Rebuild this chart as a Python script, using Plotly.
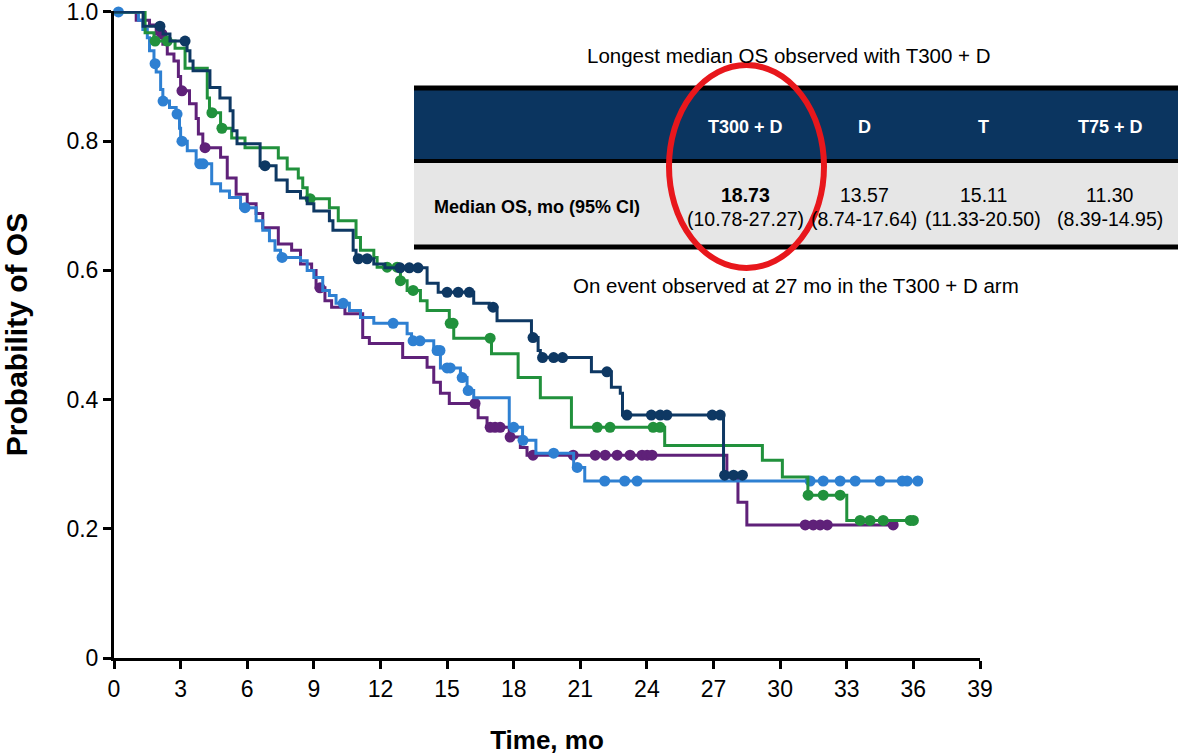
import numpy as np
import plotly.graph_objects as go

# ---- Kaplan-Meier step data (months, survival probability after each event) ----
t300d_times = [1.31, 2.21, 2.52, 3.29, 3.42, 3.56, 4.32, 4.77, 5.23, 5.36, 5.54, 6.58, 7.30,
               7.80, 8.40, 8.70, 9.00, 9.70, 9.86, 10.77, 10.90, 11.70, 12.20, 14.10, 14.60,
               16.20, 16.90, 17.25, 18.80, 19.10, 19.20, 21.50, 22.40, 22.80, 22.90, 27.45]
t300d_surv = [0.978, 0.966, 0.955, 0.940, 0.924, 0.909, 0.883, 0.867, 0.847, 0.816, 0.796, 0.762, 0.740,
              0.722, 0.712, 0.703, 0.692, 0.677, 0.662, 0.631, 0.618, 0.610, 0.604, 0.580, 0.566,
              0.549, 0.543, 0.522, 0.496, 0.476, 0.465, 0.443, 0.419, 0.410, 0.376, 0.283]
t300d_cens = [2.07, 3.20, 6.80, 11.0, 11.4, 12.88, 13.3, 13.69, 15.0, 15.5, 16.0, 17.07, 18.87,
              19.3, 19.8, 20.2, 22.2, 23.1, 24.2, 24.6, 24.9, 26.94, 27.3, 27.5, 27.9, 28.3]
t300d_end = 28.3

t_times = [1.40, 1.80, 2.75, 3.20, 4.20, 4.30, 4.80, 5.30, 5.90, 7.40, 7.80, 8.30, 8.50, 8.70,
           9.70, 10.10, 10.90, 11.10, 11.70, 11.85, 12.90, 13.20, 13.80, 14.10, 15.10, 15.30,
           17.00, 18.20, 19.20, 20.60, 24.80, 29.20, 30.10, 31.25, 33.00]
t_surv = [0.968, 0.955, 0.944, 0.913, 0.867, 0.844, 0.820, 0.805, 0.790, 0.774, 0.757, 0.743, 0.728, 0.711,
          0.697, 0.677, 0.651, 0.631, 0.620, 0.605, 0.584, 0.569, 0.553, 0.538, 0.518, 0.495,
          0.471, 0.434, 0.403, 0.357, 0.329, 0.306, 0.280, 0.252, 0.213]
t_cens = [1.85, 2.4, 4.41, 4.86, 8.83, 12.3, 12.75, 12.9, 13.47, 15.14, 15.27, 16.94, 21.76, 22.34,
          24.28, 24.59, 31.26, 31.94, 32.7, 33.6, 34.05, 34.64, 35.86, 36.0]
t_end = 36.0

t75d_times = [1.00, 1.60, 1.90, 2.20, 2.40, 2.70, 2.90, 3.00, 3.40, 3.70, 3.80, 4.00, 4.80, 5.10,
              5.50, 6.00, 6.40, 6.70, 7.40, 8.00, 8.40, 8.90, 9.10, 9.50, 9.80, 10.40, 11.20,
              11.50, 13.00, 14.10, 14.40, 14.70, 15.10, 16.40, 16.80, 17.80, 18.30, 18.60,
              27.60, 28.10, 28.50]
t75d_surv = [0.987, 0.980, 0.966, 0.950, 0.935, 0.924, 0.900, 0.878, 0.858, 0.835, 0.811, 0.790, 0.775, 0.743,
             0.718, 0.703, 0.688, 0.666, 0.641, 0.631, 0.610, 0.600, 0.573, 0.553, 0.543, 0.533, 0.496,
             0.487, 0.465, 0.450, 0.427, 0.410, 0.394, 0.372, 0.357, 0.342, 0.326, 0.314,
             0.280, 0.241, 0.206]
t75d_cens = [2.16, 3.06, 4.1, 9.28, 16.26, 16.94, 17.16, 17.39, 17.84, 18.87, 20.68, 21.67, 22.12,
             22.66, 23.24, 23.78, 24.01, 24.23, 31.13, 31.49, 31.8, 32.12, 35.09]
t75d_end = 35.1

d_times = [1.10, 1.30, 1.50, 1.60, 1.80, 1.90, 2.10, 2.20, 2.50, 2.80, 2.95, 3.00, 3.30, 3.70,
           4.40, 4.80, 5.20, 5.70, 6.40, 6.70, 7.00, 7.25, 7.50, 8.40, 8.70, 9.00, 9.40, 9.70,
           10.00, 10.60, 11.10, 11.70, 13.20, 13.40, 14.40, 14.70, 15.60, 15.90, 16.20, 17.80,
           18.40, 19.00, 20.70, 21.20]
d_surv = [0.987, 0.973, 0.960, 0.940, 0.920, 0.907, 0.880, 0.862, 0.852, 0.842, 0.820, 0.800, 0.785, 0.765,
          0.734, 0.723, 0.713, 0.697, 0.677, 0.662, 0.646, 0.631, 0.620, 0.615, 0.600, 0.589, 0.569, 0.561,
          0.549, 0.538, 0.527, 0.518, 0.502, 0.491, 0.476, 0.449, 0.434, 0.414, 0.403, 0.357,
          0.337, 0.317, 0.295, 0.274]
d_cens = [0.2, 1.85, 2.21, 2.84, 3.06, 3.87, 4.01, 5.9, 7.57, 10.32, 12.57, 13.47, 13.78, 14.55,
          14.68, 15.0, 15.14, 15.68, 15.95, 18.0, 18.42, 19.8, 20.86, 22.1, 23.0, 23.56, 31.35,
          31.94, 32.7, 33.38, 34.5, 35.5, 35.72, 36.2]
d_end = 36.2

# ---- table contents ----
arms = ["T300 + D", "D", "T", "T75 + D"]
median_os = ["18.73", "13.57", "15.11", "11.30"]
median_ci = ["(10.78-27.27)", "(8.74-17.64)", "(11.33-20.50)", "(8.39-14.95)"]

x_ticks = list(range(0, 40, 3))
y_ticks = [0, 0.2, 0.4, 0.6, 0.8, 1.0]
y_tick_text = ["0", "0.2", "0.4", "0.6", "0.8", "1.0"]

NAVY = "#0e3863"
GREEN = "#21913c"
PURPLE = "#5f2179"
BLUE = "#2e80d2"
FONT = "Liberation Sans, Arial, sans-serif"

fig = go.Figure()


def add_arm(times, surv, cens, end, color, name):
    xs = [0.0] + list(times) + [end]
    ys = [1.0] + list(surv) + [surv[-1]]
    fig.add_trace(go.Scatter(x=xs, y=ys, mode="lines", line=dict(color=color, width=3, shape="hv"),
                             name=name, showlegend=False, cliponaxis=False, hoverinfo="skip"))
    levels = np.array([1.0] + list(surv))
    idx = np.searchsorted(np.array(times), np.array(cens), side="right")
    fig.add_trace(go.Scatter(x=cens, y=levels[idx], mode="markers",
                             marker=dict(color=color, size=11, line=dict(width=0)),
                             name=name, showlegend=False, cliponaxis=False))


add_arm(t75d_times, t75d_surv, t75d_cens, t75d_end, PURPLE, "T75 + D")
add_arm(d_times, d_surv, d_cens, d_end, BLUE, "D")
add_arm(t_times, t_surv, t_cens, t_end, GREEN, "T")
add_arm(t300d_times, t300d_surv, t300d_cens, t300d_end, NAVY, "T300 + D")

# pixel -> paper helpers for the inset table
L, R, T, B = 114, 198, 11, 98
W, H = 1178, 756
PW, PH = W - L - R, H - T - B


def px(xp):
    return (xp - L) / PW


def py(yp):
    return (H - B - yp) / PH


shapes = [
    dict(type="rect", xref="paper", yref="paper", x0=px(414), x1=px(1178), y0=py(160), y1=py(88),
         fillcolor="#0b3560", line=dict(width=0), layer="above"),
    dict(type="rect", xref="paper", yref="paper", x0=px(414), x1=px(1178), y0=py(246), y1=py(162),
         fillcolor="#e6e6e6", line=dict(width=0), layer="above"),
    dict(type="line", xref="paper", yref="paper", x0=px(414), x1=px(1178), y0=py(88), y1=py(88),
         line=dict(color="black", width=5), layer="above"),
    dict(type="line", xref="paper", yref="paper", x0=px(414), x1=px(1178), y0=py(161), y1=py(161),
         line=dict(color="black", width=4), layer="above"),
    dict(type="line", xref="paper", yref="paper", x0=px(414), x1=px(1178), y0=py(247), y1=py(247),
         line=dict(color="black", width=5), layer="above"),
    dict(type="circle", xref="paper", yref="paper", x0=px(669), x1=px(824), y0=py(268), y1=py(65),
         line=dict(color="#e8171c", width=6), layer="above"),
]

col_x = [745, 864, 983, 1110]
annotations = [
    dict(text="Longest median OS observed with T300 + D", x=px(789), y=py(55), xref="paper", yref="paper",
         showarrow=False, font=dict(family=FONT, size=20.5, color="black"), xanchor="center", yanchor="middle"),
    dict(text="On event observed at 27 mo in the T300 + D arm", x=px(796), y=py(285), xref="paper",
         yref="paper", showarrow=False, font=dict(family=FONT, size=20.5, color="black"),
         xanchor="center", yanchor="middle"),
    dict(text="<b>Median OS, mo (95% CI)</b>", x=px(537), y=py(207), xref="paper", yref="paper",
         showarrow=False, font=dict(family=FONT, size=18, color="black"), xanchor="center", yanchor="middle"),
]
for i, arm in enumerate(arms):
    annotations.append(dict(text="<b>%s</b>" % arm, x=px(col_x[i]), y=py(127), xref="paper", yref="paper",
                            showarrow=False, font=dict(family=FONT, size=18, color="white"),
                            xanchor="center", yanchor="middle"))
    med = "<b>%s</b>" % median_os[i] if i == 0 else median_os[i]
    annotations.append(dict(text=med, x=px(col_x[i]), y=py(195), xref="paper", yref="paper",
                            showarrow=False, font=dict(family=FONT, size=19.5, color="black"),
                            xanchor="center", yanchor="middle"))
    annotations.append(dict(text=median_ci[i], x=px(col_x[i]), y=py(219), xref="paper", yref="paper",
                            showarrow=False, font=dict(family=FONT, size=19.5, color="black"),
                            xanchor="center", yanchor="middle"))

fig.update_layout(
    width=W, height=H,
    margin=dict(l=L, r=R, t=T, b=B, pad=0, autoexpand=False),
    plot_bgcolor="white", paper_bgcolor="white",
    font=dict(family=FONT, color="black"),
    shapes=shapes,
    annotations=annotations,
    showlegend=False,
    xaxis=dict(range=[0, 39], tickvals=x_ticks, ticktext=[str(v) for v in x_ticks], automargin=False,
               showgrid=False, zeroline=False, showline=True, linecolor="black", linewidth=3,
               ticks="outside", ticklen=8, tickwidth=2.5, tickcolor="black",
               tickfont=dict(family=FONT, size=23, color="black"), ticklabeloverflow="allow",
               title=dict(text="<b>Time, mo</b>", font=dict(family=FONT, size=26, color="black"), standoff=31)),
    yaxis=dict(range=[0, 1.0015], tickvals=y_ticks, ticktext=y_tick_text, automargin=False,
               showgrid=False, zeroline=False, showline=True, linecolor="black", linewidth=3,
               ticks="outside", ticklen=8, tickwidth=2.5, tickcolor="black",
               tickfont=dict(family=FONT, size=23, color="black"), ticklabeloverflow="allow",
               title=dict(text="<b>Probability of OS</b>", font=dict(family=FONT, size=30, color="black"),
                          standoff=31)),
)

fig.write_html("out.html")
